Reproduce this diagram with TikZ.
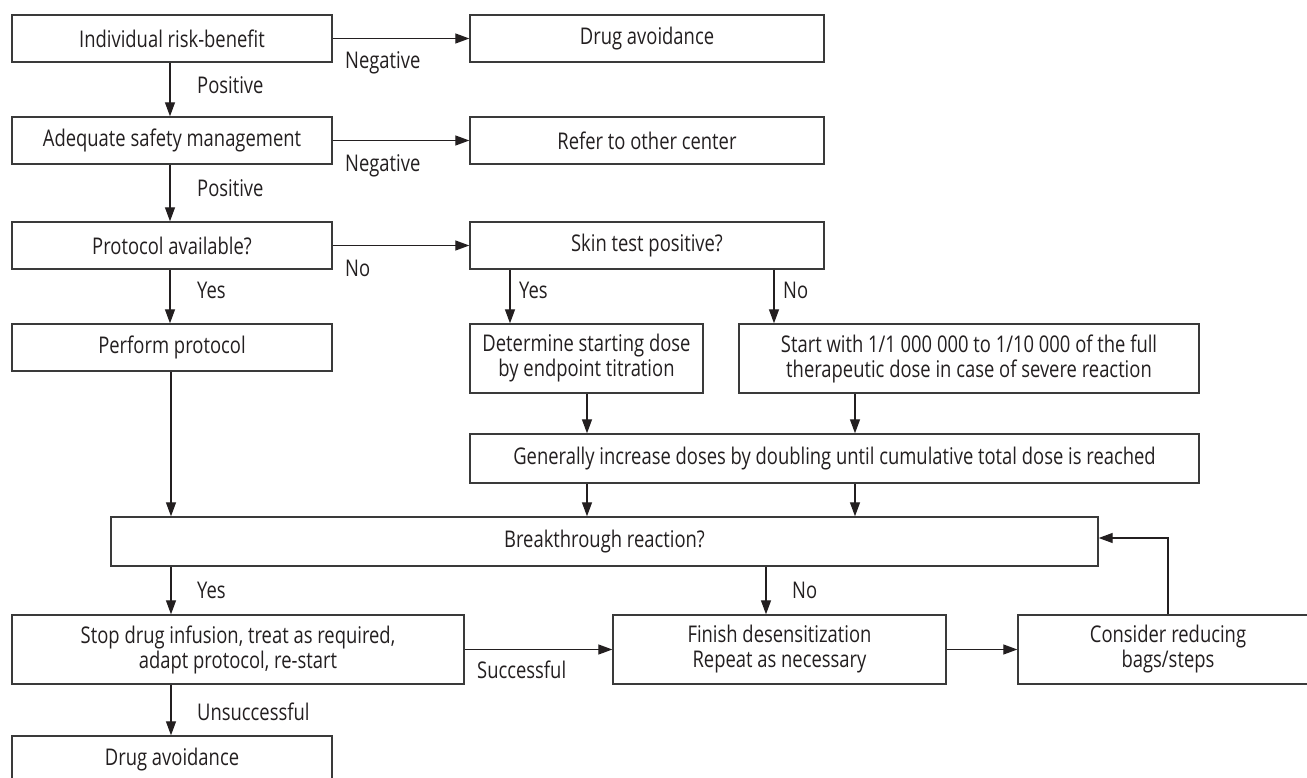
\documentclass[tikz,border=0pt]{standalone}
\usepackage{fontspec}
\setmainfont{Open Sans}[FakeStretch=0.8]
\usetikzlibrary{arrows.meta}
\definecolor{ink}{HTML}{231F20}
\definecolor{edge}{HTML}{3A3A3A}
\begin{document}
\begin{tikzpicture}[x=1pt,y=-1pt,
  box/.style={draw=edge, line width=1.4pt, inner sep=0pt, align=center, text=ink,
    font=\fontsize{23}{25}\selectfont},
  lbl/.style={anchor=west, inner sep=0pt, text=ink, font=\fontsize{23}{25}\selectfont},
  arr/.style={draw=ink, line width=1.3pt, -{Triangle[length=14pt,width=10pt]}}]
\fill[white] (0,0) rectangle (1307,778);
\useasboundingbox (0,0) rectangle (1307,778);
% boxes
\node[box, minimum width=320, minimum height=47] (b1) at (172,38.5) {Individual risk-benefit};
\node[box, minimum width=354, minimum height=47] (da1) at (647,38.5) {Drug avoidance};
\node[box, minimum width=320, minimum height=47] (b2) at (172,140.5) {Adequate safety management};
\node[box, minimum width=354, minimum height=47] (ref) at (647,140.5) {Refer to other center};
\node[box, minimum width=320, minimum height=47] (b3) at (172,245.5) {Protocol available?};
\node[box, minimum width=354, minimum height=47] (skin) at (647,245.5) {Skin test positive?};
\node[box, minimum width=320, minimum height=47] (perf) at (172,347.5) {Perform protocol};
\node[box, minimum width=233, minimum height=69] (det) at (586.5,358.5) {Determine starting dose\\by endpoint titration};
\node[box, minimum width=460, minimum height=69] (start) at (969,358.5) {Start with 1/1 000 000 to 1/10 000 of the full\\therapeutic dose in case of severe reaction};
\node[box, minimum width=729, minimum height=49] (gen) at (834.5,458.5) {Generally increase doses by doubling until cumulative total dose is reached};
\node[box, minimum width=987, minimum height=49] (brk) at (604.5,541.5) {Breakthrough reaction?};
\node[box, minimum width=452, minimum height=69] (stop) at (238,649.5) {Stop drug infusion, treat as required,\\adapt protocol, re-start};
\node[box, minimum width=333, minimum height=69] (fin) at (779.5,649.5) {Finish desensitization\\Repeat as necessary};
\node[box, minimum width=300, minimum height=69] (cons) at (1168,649.5) {Consider reducing\\bags/steps};
\node[box, minimum width=320, minimum height=47] (da2) at (172,759.5) {Drug avoidance};
% labels
\node[lbl] (l1) at (345,63) {Negative};
\node[lbl] (l2) at (197,85) {Positive};
\node[lbl] (l3) at (345,166) {Negative};
\node[lbl] (l4) at (197,188) {Positive};
\node[lbl] (l5) at (345,268) {No};
\node[lbl] (l6) at (197,290) {Yes};
\node[lbl] (l7) at (519,290) {Yes};
\node[lbl] (l8) at (783,290) {No};
\node[lbl] (l9) at (197,590) {Yes};
\node[lbl] (l10) at (792,590) {No};
\node[lbl] (l11) at (477,670) {Successful};
\node[lbl] (l12) at (197,712) {Unsuccessful};
% connectors
\draw[arr] (b1.east) -- (da1.west);
\draw[arr] (b1.south -| 170,0) -- (b2.north -| 170,0);
\draw[arr] (b2.east) -- (ref.west);
\draw[arr] (b2.south -| 170,0) -- (b3.north -| 170,0);
\draw[arr] (b3.east) -- (skin.west);
\draw[arr] (b3.south -| 170,0) -- (perf.north -| 170,0);
\draw[arr] (skin.south -| 510,0) -- (det.north -| 510,0);
\draw[arr] (skin.south -| 774,0) -- (start.north -| 774,0);
\draw[arr] (det.south -| 587,0) -- (gen.north -| 587,0);
\draw[arr] (start.south -| 855,0) -- (gen.north -| 855,0);
\draw[arr] (gen.south -| 587,0) -- (brk.north -| 587,0);
\draw[arr] (gen.south -| 855,0) -- (brk.north -| 855,0);
\draw[arr] (perf.south -| 171,0) -- (brk.north -| 171,0);
\draw[arr] (brk.south -| 171,0) -- (stop.north -| 171,0);
\draw[arr] (brk.south -| 766,0) -- (fin.north -| 766,0);
\draw[arr] (stop.east) -- (fin.west);
\draw[arr] (fin.east) -- (cons.west);
\draw[arr] (cons.north) |- ([yshift=3.5pt]brk.east);
\draw[arr] (stop.south -| 171,0) -- (da2.north -| 171,0);
\end{tikzpicture}
\end{document}
